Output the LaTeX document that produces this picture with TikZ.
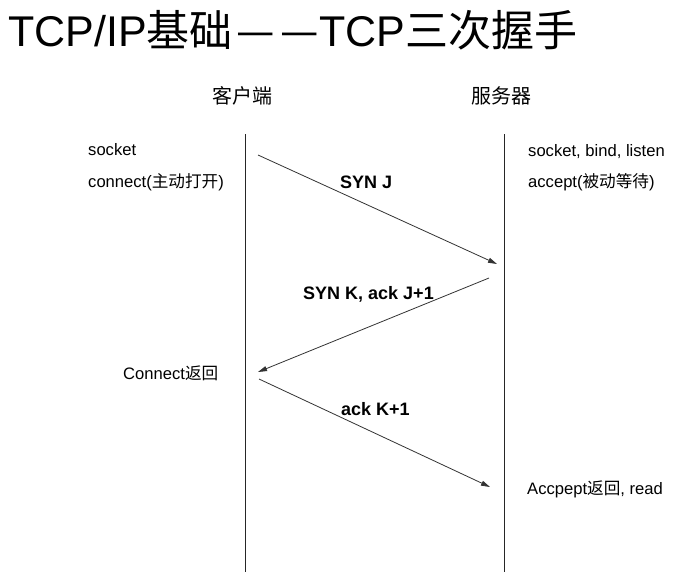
\documentclass[tikz,border=0pt]{standalone}
\usepackage{fontspec}
\setmainfont{Liberation Sans}
\newfontfamily\cjk{Noto Sans CJK SC}
\usetikzlibrary{arrows.meta}
\begin{document}
\begin{tikzpicture}[x=1pt,y=-1pt,
  txt/.style={anchor=base west,inner sep=0pt,font=\fontsize{16.6}{18}\selectfont},
  lbl/.style={anchor=base west,inner sep=0pt,font=\fontsize{18}{20}\selectfont\bfseries},
  hdr/.style={anchor=center,inner sep=0pt,font=\fontsize{20}{22}\selectfont\cjk},
  life/.style={line width=0.9pt,black!85},
  msg/.style={line width=0.8pt,black!80,-{Triangle[length=9pt,width=5pt]}}]
\useasboundingbox (0,0) rectangle (676,578);
\fill[white] (0,0) rectangle (676,578);
% title
\node[anchor=base west,inner sep=0pt,font=\fontsize{43}{46}\selectfont] (title) at (8,47)
  {TCP/IP{\cjk 基础\kern4pt—\kern5pt—\kern1pt}TCP{\cjk 三次握手}};
% headers
\node[hdr] (client) at (242,96) {客户端};
\node[hdr] (server) at (501,96) {服务器};
% lifelines
\coordinate (ltop) at (245,134);
\coordinate (lbot) at (245,572);
\coordinate (rtop) at (504,134);
\coordinate (rbot) at (504,572);
\draw[life] (ltop) -- (lbot);
\draw[life] (rtop) -- (rbot);
% side texts
\node[txt] (csock) at (88,155) {socket};
\node[txt] (cconn) at (88,187) {connect({\cjk 主动打开})};
\node[txt] (ssock) at (528,156) {socket, bind, listen};
\node[txt] (sacc) at (528,187) {accept({\cjk 被动等待})};
\node[txt] (cret) at (123,379) {Connect{\cjk 返回}};
\node[txt] (sret) at (527,494) {Accpept{\cjk 返回}, read};
% messages
\coordinate (a1s) at (258,155);
\coordinate (a1e) at (497,264);
\coordinate (a2s) at (489,278);
\coordinate (a2e) at (258,372);
\coordinate (a3s) at (259,379);
\coordinate (a3e) at (490,487);
\draw[msg] (a1s) -- (a1e);
\draw[msg] (a2s) -- (a2e);
\draw[msg] (a3s) -- (a3e);
\node[lbl] (l1) at (340,188.5) {SYN J};
\node[lbl] (l2) at (303,299) {SYN K, ack J+1};
\node[lbl] (l3) at (341,415) {ack K+1};
\end{tikzpicture}
\end{document}
